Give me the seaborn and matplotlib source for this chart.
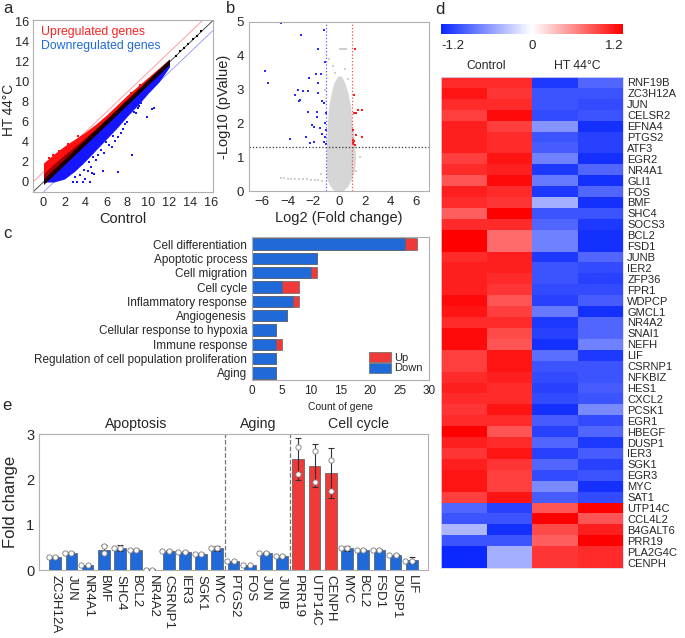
import matplotlib
matplotlib.use('Agg')
import numpy as np
import pandas as pd
import matplotlib.pyplot as plt
from matplotlib.colors import LinearSegmentedColormap
from matplotlib.patches import Patch
from matplotlib.ticker import MultipleLocator
import seaborn as sns

sns.set_style('white')
plt.rcParams['font.family'] = ['Liberation Sans', 'DejaVu Sans']
plt.rcParams['axes.edgecolor'] = '#a8a8a8'
plt.rcParams['axes.linewidth'] = 0.8

RED = '#f03a3a'
BLUE = '#1f6ad8'

# ---------- panel a: HT vs control scatter ----------
cloud_x = [0, 1, 2, 3, 4, 5, 6, 7, 8, 9, 10, 11, 12]
cloud_red_top = [1.9, 2.8, 3.6, 4.3, 5.0, 5.8, 6.7, 7.7, 8.7, 9.6, 10.5, 11.4, 12.3]
cloud_blue_bot = [0.0, 0.0, 0.3, 1.1, 2.1, 3.2, 4.3, 5.4, 6.6, 7.7, 8.9, 10.0, 11.5]
a_blue_x = [8.4, 7.1, 5.7, 9.9, 10.3, 10.5, 9.1, 8.6, 8.8, 7.6, 7.1, 6.8, 6.5, 6.0, 5.5, 5.8, 4.7, 4.3, 4.5, 3.9,
            3.5, 4.6, 4.0, 4.8, 3.2, 3.8, 4.4, 2.8, 3.0, 9.3, 9.0, 8.0, 7.8, 6.6, 6.2, 7.4, 5.2, 5.0, 4.2, 3.7]
a_blue_y = [2.7, 1.0, 1.1, 6.5, 7.3, 7.4, 7.6, 7.0, 6.9, 5.3, 4.5, 4.1, 3.5, 4.0, 3.2, 2.9, 2.5, 2.0, 1.5, 1.2,
            0.7, 0.9, 0.3, 0.8, 0.0, 0.0, 0.0, 0.0, 0.5, 7.9, 7.4, 6.0, 5.8, 4.6, 3.7, 4.9, 2.7, 2.2, 1.1, 1.8]
a_red_x = [0.5, 1.5, 2.3, 8.3, 9.2, 3.3, 0.9]
a_red_y = [2.4, 3.1, 3.8, 8.9, 9.7, 4.6, 2.7]
a_black_x = [12.6, 13.0, 13.4, 13.8, 14.2, 14.6, 15.0]
a_black_y = [12.6, 13.1, 13.4, 13.8, 14.3, 14.6, 15.1]

# ---------- panel b: volcano ----------
grey_y = [0.0, 0.15, 0.35, 0.6, 1.0, 1.5, 2.0, 2.5, 2.9, 3.2, 3.4]
grey_left = [-0.35, -0.7, -0.95, -1.0, -1.0, -0.95, -0.9, -0.8, -0.6, -0.4, -0.1]
grey_right = [0.3, 0.7, 0.95, 1.2, 1.3, 1.2, 1.0, 0.9, 0.7, 0.45, 0.2]
grey_fc = [-4.5, -4.3, -4.0, -3.7, -3.4, -3.1, -2.8, -2.5, -2.2, -1.9, -1.6, -1.3,
           0.1, 0.25, 0.4, 0.55, -0.8, -0.5, 0.45, -1.1, 1.3, 1.6, -1.4, -0.3, 0.7]
grey_p = [0.37, 0.37, 0.36, 0.36, 0.36, 0.35, 0.36, 0.35, 0.34, 0.33, 0.32, 0.31,
          4.2, 4.2, 4.2, 4.2, 3.9, 3.7, 3.6, 3.0, 0.6, 1.0, 0.5, 3.5, 3.3]
blue_fc = [-4.48, -2.94, -1.20, -1.66, -1.07, -5.76, -5.55, -2.3, -1.8, -1.4, -1.6, -3.18, -2.8,
           -2.4, -3.4, -3.1, -3.0, -1.6, -1.35, -2.45, -1.75, -1.7, -1.05, -2.1, -1.95, -1.45,
           -2.55, -1.3, -1.1, -3.8, -1.97, -2.25, -1.15, -1.05, -1.0, -1.1, -1.2]
blue_p = [4.97, 4.63, 4.75, 4.2, 3.83, 3.54, 3.2, 3.35, 3.45, 3.45, 3.2, 3.0, 2.95,
          2.95, 2.85, 2.65, 2.7, 2.9, 2.65, 2.35, 2.35, 2.2, 2.3, 1.95, 1.9, 1.85,
          1.6, 1.7, 1.6, 1.55, 1.45, 1.42, 1.45, 1.8, 1.38, 2.0, 2.6]
red_fc = [1.25, 1.15, 1.5, 1.8, 1.2, 1.35, 1.1, 1.35, 1.8, 1.05, 1.1, 1.15, 1.25, 1.1]
red_p = [4.2, 2.85, 2.4, 2.4, 2.3, 2.3, 1.8, 1.65, 1.6, 1.45, 1.4, 1.47, 1.35, 1.52]

# ---------- panel c: GO terms ----------
go_terms = ['Cell differentiation', 'Apoptotic process', 'Cell migration', 'Cell cycle',
            'Inflammatory response', 'Angiogenesis', 'Cellular response to hypoxia',
            'Immune response', 'Regulation of cell population proliferation', 'Aging']
go_down = [26, 11, 10, 5, 7, 6, 4, 4, 4, 4]
go_up = [2, 0, 1, 3, 1, 0, 0, 1, 0, 0]

# ---------- panel d: heatmap ----------
genes = ['RNF19B', 'ZC3H12A', 'JUN', 'CELSR2', 'EFNA4', 'PTGS2', 'ATF3', 'EGR2', 'NR4A1', 'GLI1',
         'FOS', 'BMF', 'SHC4', 'SOCS3', 'BCL2', 'FSD1', 'JUNB', 'IER2', 'ZFP36', 'FPR1',
         'WDPCP', 'GMCL1', 'NR4A2', 'SNAI1', 'NEFH', 'LIF', 'CSRNP1', 'NFKBIZ', 'HES1', 'CXCL2',
         'PCSK1', 'EGR1', 'HBEGF', 'DUSP1', 'IER3', 'SGK1', 'EGR3', 'MYC', 'SAT1', 'UTP14C',
         'CCL4L2', 'B4GALT6', 'PRR19', 'PLA2G4C', 'CENPH']
ctrl1 = [1.0, 1.1, 1.0, 0.9, 1.05, 1.05, 1.05, 0.9, 1.0, 0.8,
         1.05, 1.0, 0.75, 1.0, 1.2, 1.2, 1.0, 1.05, 1.05, 1.05,
         1.15, 1.1, 1.0, 1.15, 1.15, 0.9, 0.9, 1.0, 1.05, 1.0,
         0.95, 1.0, 1.2, 1.05, 0.95, 1.05, 1.1, 1.1, 0.9, -0.85,
         -0.95, -0.4, -0.95, -1.2, -1.2]
ctrl2 = [1.0, 0.95, 1.0, 1.15, 0.9, 1.0, 1.0, 1.1, 1.05, 1.15,
         1.0, 0.95, 1.2, 1.0, 0.7, 0.7, 1.05, 1.05, 1.0, 0.95,
         0.8, 0.9, 1.0, 0.85, 0.8, 1.1, 1.1, 1.05, 1.0, 1.0,
         1.1, 1.0, 0.8, 1.0, 1.1, 0.95, 0.9, 0.9, 1.1, -1.05,
         -0.95, -1.15, -0.95, -0.45, -0.45]
ht1 = [-1.1, -0.95, -0.95, -1.0, -0.6, -0.95, -0.9, -0.7, -1.1, -0.75,
       -1.1, -0.45, -0.95, -0.85, -0.7, -0.7, -1.1, -0.95, -0.95, -1.0,
       -1.05, -0.75, -1.1, -1.05, -1.15, -0.8, -0.95, -1.0, -1.05, -1.0,
       -1.15, -0.9, -1.05, -0.85, -1.05, -0.85, -1.0, -0.65, -0.9, 0.8,
       1.2, 0.85, 0.75, 0.95, 0.95]
ht2 = [-0.85, -0.95, -1.0, -0.95, -1.15, -1.05, -1.05, -1.15, -0.85, -1.15,
       -0.85, -1.15, -0.95, -1.1, -1.15, -1.15, -0.85, -1.0, -1.05, -1.0,
       -0.9, -1.15, -0.85, -0.85, -0.7, -1.1, -0.95, -0.95, -0.9, -0.95,
       -0.65, -1.0, -0.85, -1.1, -0.9, -1.05, -0.95, -1.15, -1.0, 1.2,
       0.8, 1.05, 1.2, 1.0, 1.0]

# ---------- panel e: qPCR fold change ----------
qpcr_genes = ['ZC3H12A', 'JUN', 'NR4A1', 'BMF', 'SHC4', 'BCL2', 'NR4A2', 'CSRNP1', 'IER3', 'SGK1', 'MYC',
              'PTGS2', 'FOS', 'JUN', 'JUNB',
              'PRR19', 'UTP14C', 'CENPH', 'MYC', 'BCL2', 'FSD1', 'DUSP1', 'LIF']
qpcr_fc = [0.29, 0.38, 0.10, 0.45, 0.49, 0.45, 0.01, 0.42, 0.40, 0.36, 0.48,
           0.19, 0.10, 0.38, 0.30,
           2.45, 2.30, 2.14, 0.48, 0.45, 0.45, 0.33, 0.22]
qpcr_err = [0.02, 0.02, 0.02, 0.10, 0.06, 0.01, 0.01, 0.02, 0.02, 0.01, 0.05,
            0.01, 0.01, 0.02, 0.02,
            0.46, 0.48, 0.55, 0.05, 0.01, 0.01, 0.03, 0.07]
qpcr_rep1 = [0.29, 0.38, 0.10, 0.52, 0.49, 0.45, 0.01, 0.42, 0.40, 0.36, 0.48,
             0.19, 0.10, 0.38, 0.30,
             2.71, 2.63, 2.43, 0.48, 0.45, 0.45, 0.33, 0.20]
qpcr_rep2 = [0.29, 0.38, 0.10, 0.38, 0.49, 0.45, 0.01, 0.42, 0.40, 0.36, 0.48,
             0.19, 0.10, 0.38, 0.30,
             2.12, 1.94, 1.74, 0.48, 0.45, 0.45, 0.33, 0.20]
qpcr_dir = ['down'] * 15 + ['up'] * 3 + ['down'] * 5
groups = ['Apoptosis', 'Aging', 'Cell cycle']
group_centers = [5, 12.5, 18.7]
group_breaks = [10.5, 14.5]

W, H = 685, 638
fig = plt.figure(figsize=(W / 100, H / 100), dpi=100)


def rect(l, t, r, b):
    return [l / W, 1 - b / H, (r - l) / W, (b - t) / H]


def grey_frame(ax):
    for s in ax.spines.values():
        s.set_visible(True)
        s.set_color('#b0b0b0')
        s.set_linewidth(0.8)
    ax.tick_params(direction='out', length=2, width=0.6, color='#888888', pad=1.5)


# ---- a ----
ax = fig.add_axes(rect(33, 20, 213, 192))
cx = np.array(cloud_x, float)
ax.fill_between(cx, cx, cloud_red_top, color='#ff1010', lw=0, zorder=1)
ax.fill_between(cx, cx, cx + 0.45 * (np.array(cloud_red_top) - cx), color='#a00000', lw=0, zorder=1)
ax.fill_between(cx, cloud_blue_bot, cx, color='#1515ff', lw=0, zorder=1)
ax.fill_between(cx, cx - 0.25, cx + 0.3, color='#1a0000', lw=0, zorder=1)
sns.scatterplot(x=a_blue_x, y=a_blue_y, color='#1515ff', marker='s', s=3, linewidth=0, ax=ax, zorder=2)
sns.scatterplot(x=a_red_x, y=a_red_y, color='#ff1010', marker='s', s=3, linewidth=0, ax=ax, zorder=2)
sns.scatterplot(x=a_black_x, y=a_black_y, color='black', marker='s', s=3, linewidth=0, ax=ax, zorder=2)
ax.axline((0, 0), slope=1, color='#333333', lw=0.6, zorder=0)
ax.axline((0, 1), slope=1, color='#ff9090', lw=0.6, zorder=0)
ax.axline((0, -1), slope=1, color='#9090ff', lw=0.6, zorder=0)
ax.set_xlim(-1, 16.15)
ax.set_ylim(-1, 16.2)
ax.set_xticks(range(0, 17, 2))
ax.set_yticks(range(0, 17, 2))
ax.yaxis.set_minor_locator(MultipleLocator(1))
grey_frame(ax)
ax.tick_params(labelsize=9.2)
ax.tick_params(axis='y', pad=1)
ax.tick_params(axis='y', which='minor', direction='out', length=1.5, width=0.5, color='#888888')
ax.set_xlabel('Control', fontsize=10.5, labelpad=2)
ax.set_ylabel('HT 44°C', fontsize=9.8)
ax.yaxis.set_label_coords(-0.095, 0.48)
ax.text(0.045, 0.93, 'Upregulated genes', color='#ff2020', fontsize=8.8, transform=ax.transAxes, va='center')
ax.text(0.045, 0.85, 'Downregulated genes', color='#1f6ad8', fontsize=8.8, transform=ax.transAxes, va='center')

# ---- b ----
ax = fig.add_axes(rect(249, 22, 429, 191))
ax.fill_betweenx(grey_y, grey_left, grey_right, color='#d6d6d6', lw=0, zorder=1)
sns.scatterplot(x=grey_fc, y=grey_p, color='#cfcfcf', marker='s', s=3, linewidth=0, ax=ax, zorder=1)
sns.scatterplot(x=blue_fc, y=blue_p, color='#2a2aff', marker='s', s=3, linewidth=0, ax=ax, zorder=2)
sns.scatterplot(x=red_fc, y=red_p, color='#ff1a1a', marker='s', s=3, linewidth=0, ax=ax, zorder=2)
ax.axvline(-1, color='#5a5aff', ls=':', lw=0.9)
ax.axvline(1, color='#ff4a4a', ls=':', lw=0.9)
ax.axhline(1.3, color='#333333', ls=':', lw=0.9)
ax.set_xlim(-7, 7)
ax.set_ylim(0, 5)
ax.set_xticks(range(-6, 7, 2))
ax.set_yticks(range(0, 6))
ax.tick_params(labelsize=9.5)
grey_frame(ax)
ax.set_xlabel('Log2 (Fold change)', fontsize=10.5, labelpad=2)
ax.set_ylabel('-Log10 (pValue)', fontsize=10.5, labelpad=4)

# ---- c ----
ax = fig.add_axes(rect(252, 237, 429, 380))
go_total = [d + u for d, u in zip(go_down, go_up)]
sns.barplot(x=go_total, y=go_terms, orient='h', color=RED, saturation=1, width=0.8,
            edgecolor='#666666', linewidth=0.5, ax=ax)
sns.barplot(x=go_down, y=go_terms, orient='h', color=BLUE, saturation=1, width=0.8,
            edgecolor='#666666', linewidth=0.5, ax=ax)
ax.set_xlim(0, 30)
ax.set_xticks(range(0, 31, 5))
ax.tick_params(labelsize=8.5)
grey_frame(ax)
ax.set_ylabel('')
ax.set_xlabel('Count of gene', fontsize=7.5, labelpad=4)
ax.legend(handles=[Patch(facecolor=RED, edgecolor='#666666', lw=0.5, label='Up'),
                   Patch(facecolor=BLUE, edgecolor='#666666', lw=0.5, label='Down')],
          loc='lower right', frameon=False, fontsize=8, handlelength=1.9, handleheight=1.0,
          handletextpad=0.3, labelspacing=0.0, borderaxespad=0.2)

# ---- d ----
ax = fig.add_axes(rect(441, 77, 623, 568))
cax = fig.add_axes(rect(441, 24, 623, 34))
cmap = LinearSegmentedColormap.from_list('bwr2', ['#0a28ff', '#ffffff', '#ff0000'])
heat = pd.DataFrame({'c1': ctrl1, 'c2': ctrl2, 'h1': ht1, 'h2': ht2}, index=genes)
sns.heatmap(heat, cmap=cmap, vmin=-1.2, vmax=1.2, ax=ax, cbar_ax=cax,
            cbar_kws={'orientation': 'horizontal', 'ticks': [-1.2, 0, 1.2]},
            xticklabels=False, yticklabels=True)
ax.yaxis.tick_right()
ax.tick_params(axis='y', length=0, labelsize=8, pad=3, labelrotation=0)
for s in ax.spines.values():
    s.set_visible(True)
    s.set_color('#d8d8f0')
    s.set_linewidth(0.6)
ax.text(1, -0.45, 'Control', ha='center', va='bottom', fontsize=8.8)
ax.text(3, -0.45, 'HT 44°C', ha='center', va='bottom', fontsize=8.8)
cax.tick_params(length=0, labelsize=9.5, pad=4)
cax.set_xticklabels(['-1.2', '0', '1.2'])
for lab, ha in zip(cax.get_xticklabels(), ['left', 'center', 'right']):
    lab.set_ha(ha)
ax.collections[0].colorbar.outline.set_visible(False)

# ---- e ----
ax = fig.add_axes(rect(39, 434, 428, 570))
bars = pd.DataFrame({'pos': range(len(qpcr_genes)), 'fc': qpcr_fc, 'dir': qpcr_dir})
sns.barplot(data=bars, x='pos', y='fc', hue='dir', palette={'down': BLUE, 'up': RED},
            dodge=False, legend=False, saturation=1, width=0.72, errorbar=None,
            edgecolor='#555555', linewidth=0.5, ax=ax)
ax.errorbar(bars['pos'], bars['fc'], yerr=qpcr_err, fmt='none', ecolor='#333333',
            elinewidth=0.8, capsize=2.5, capthick=0.8, zorder=3)
reps = pd.DataFrame({'pos': list(range(len(qpcr_genes))) * 2, 'val': qpcr_rep1 + qpcr_rep2})
sns.swarmplot(data=reps, x='pos', y='val', color='white', edgecolor='#7a7a7a', linewidth=0.6,
              size=3.8, ax=ax, zorder=4)
for xb in group_breaks:
    ax.axvline(xb, color='#777777', ls='--', lw=0.9, zorder=0)
for g, xc in zip(groups, group_centers):
    ax.text(xc, 3.07, g, ha='center', va='bottom', fontsize=10.2)
ax.set_xlim(-1, 23)
ax.set_ylim(0, 3)
ax.set_yticks([0, 1, 2, 3])
ax.set_xticks(range(len(qpcr_genes)))
ax.set_xticklabels(qpcr_genes, rotation=-90, fontsize=9.5, va='top', ha='center')
grey_frame(ax)
ax.tick_params(axis='y', labelsize=10.5)
ax.set_xlabel('')
ax.set_ylabel('Fold change', fontsize=12, labelpad=6)

# panel letters
for letter, x, y in [('a', 3, 1), ('b', 226, 1), ('c', 3, 226), ('d', 435, 2), ('e', 2, 398)]:
    fig.text(x / W, 1 - y / H, letter, fontsize=12, va='top', ha='left')

fig.savefig('out.png', dpi=100)
